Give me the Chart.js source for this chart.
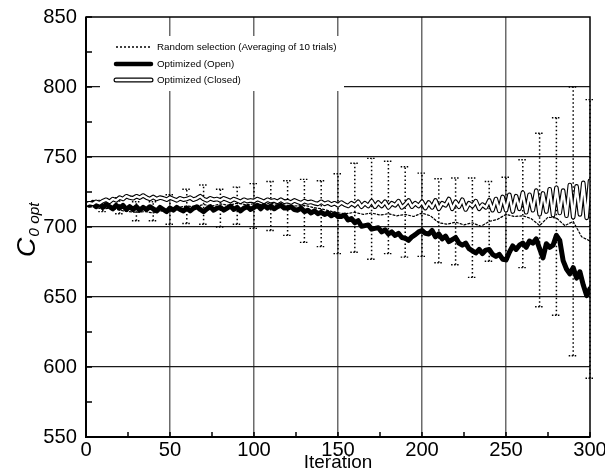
<!DOCTYPE html>
<html>
<head>
<meta charset="utf-8">
<script src="https://cdn.jsdelivr.net/npm/chart.js@4.4.0/dist/chart.umd.min.js"></script>
<style>
  html, body { margin: 0; padding: 0; background: #fff; }
  #wrap { width: 605px; height: 475px; }
</style>
</head>
<body>
<div id="wrap"><canvas id="chart" width="605" height="475"></canvas></div>
<script>
// --- data ---
const iterations = [
    0, 2, 4, 6, 8, 10, 12, 14, 16, 18,
    20, 22, 24, 26, 28, 30, 32, 34, 36, 38,
    40, 42, 44, 46, 48, 50, 52, 54, 56, 58,
    60, 62, 64, 66, 68, 70, 72, 74, 76, 78,
    80, 82, 84, 86, 88, 90, 92, 94, 96, 98,
    100, 102, 104, 106, 108, 110, 112, 114, 116, 118,
    120, 122, 124, 126, 128, 130, 132, 134, 136, 138,
    140, 142, 144, 146, 148, 150, 152, 154, 156, 158,
    160, 162, 164, 166, 168, 170, 172, 174, 176, 178,
    180, 182, 184, 186, 188, 190, 192, 194, 196, 198,
    200, 202, 204, 206, 208, 210, 212, 214, 216, 218,
    220, 222, 224, 226, 228, 230, 232, 234, 236, 238,
    240, 242, 244, 246, 248, 250, 252, 254, 256, 258,
    260, 262, 264, 266, 268, 270, 272, 274, 276, 278,
    280, 282, 284, 286, 288, 290, 292, 294, 296, 298,
    300
];

const openValues = [
    717, 715.5, 717.5, 714.5, 716.5, 714, 716, 714.5, 713, 715.5,
    713.5, 715.5, 712.5, 714.5, 712.5, 714.5, 712, 714, 712.5, 714.5,
    713, 711.5, 714, 712.5, 711, 713.5, 712, 714, 712.5, 711.5,
    713.5, 711.5, 713.5, 714.5, 712.5, 711, 713, 714.5, 712, 713.5,
    714, 712, 713.5, 715, 712.5, 714, 711.5, 713.5, 714.5, 712.5,
    714, 715.5, 713, 715.5, 713.5, 715, 713, 714.5, 715.5, 713.5,
    713.5, 714.5, 712.5, 712, 713.5, 711, 712, 710, 711.5, 709.5,
    710.5, 709, 710, 708, 709.5, 707.5, 707.5, 708.5, 705, 706,
    703, 704.5, 700.5, 701, 701.5, 698.5, 699, 699.5, 696.5, 698,
    695, 696.5, 694, 695.5, 692.5, 692, 690.5, 693, 694.5, 696.5,
    697.5, 695.5, 695, 697.5, 693, 695, 691.5, 693.5, 689.5, 691,
    692.5, 688.5, 687, 688.5, 684.5, 683, 681.5, 684, 681, 683.5,
    684, 680.5, 679, 680.5, 677, 676.5, 682, 686.5, 684, 687,
    688.5, 685.5, 690, 688.5, 691.5, 684.5, 678, 688, 685.5, 687,
    694, 690.5, 676, 670, 666.5, 671, 663.5, 668, 658.5, 651,
    656
];

const closedValues = [
    716, 717, 716.5, 718, 717, 718.5, 719.5, 718, 720, 719,
    721, 720, 722, 721, 720.5, 722, 721, 722.5, 721, 720,
    721.5, 720, 721, 720.5, 719.5, 721, 720, 719, 720.5, 719.5,
    720, 721, 719.5, 720.5, 722, 720, 719, 720.5, 719.5, 720,
    719, 720.5, 719.5, 718.5, 720, 719, 718, 719.5, 718.5, 719,
    718.5, 720, 719, 718, 719.5, 718.5, 719, 718, 719.5, 718,
    718.5, 717.5, 719, 718, 717, 718.5, 717.5, 718, 717, 716.5,
    718, 716.5, 717.5, 716, 717, 715.5, 717.5, 716, 715, 717,
    715.5, 718, 714.5, 717, 715, 718.5, 714.5, 717.5, 715, 718,
    714, 717, 715.5, 718.5, 714, 716, 719, 714.5, 717, 715,
    718, 713.5, 717.5, 714, 719, 713, 717, 715.5, 720, 713,
    718, 714.5, 719.5, 712.5, 717, 715, 718.5, 713, 716, 714,
    719, 712, 720, 711.5, 721.5, 712, 723, 711, 722, 713,
    724.5, 710.5, 723, 712, 726, 709, 724, 711, 727, 708.5,
    728, 710, 726, 708, 730, 707, 729, 709, 731.5, 706.5,
    733
];

const randomIters = [
    0, 5, 10, 15, 20, 25, 30, 35, 40, 45,
    50, 55, 60, 65, 70, 75, 80, 85, 90, 95,
    100, 105, 110, 115, 120, 125, 130, 135, 140, 145,
    150, 155, 160, 165, 170, 175, 180, 185, 190, 195,
    200, 205, 210, 215, 220, 225, 230, 235, 240, 245,
    250, 255, 260, 265, 270, 275, 280, 285, 290, 295,
    300
];

const randomMean = [
    715, 714, 713, 713.5, 712, 711, 710.5, 711, 710, 711.5,
    713, 714, 715, 714.5, 716, 715, 716.5, 715.5, 717, 716,
    716.5, 716, 717, 716, 715.5, 715, 715.5, 714, 713, 711.5,
    710, 709.5, 710.5, 709, 710, 708.5, 709.5, 708, 709, 707.5,
    710, 708, 703, 702, 703.5, 701.5, 703, 700.5, 704, 705.5,
    709, 707.5, 708, 706, 701, 707, 706.5, 701, 704, 693,
    690
];

// error bars of the random selection (every 10 iterations)
const barIters = [10, 20, 30, 40, 50, 60, 70, 80, 90, 100, 110, 120, 130, 140, 150,
    160, 170, 180, 190, 200, 210, 220, 230, 240, 250, 260, 270, 280, 290, 300];
const barLow = [711, 709.5, 704.5, 704.5, 702, 702.5, 702, 700, 702, 699, 697.5, 694, 689, 686, 681,
    682, 677, 681, 678.5, 679, 674.5, 673, 664, 675.5, 677, 671, 643, 637, 608, 592];
const barHigh = [719, 721, 718, 718, 723, 727, 730, 727, 728.5, 731, 732.5, 733, 734, 733, 738,
    745.5, 749, 747, 743, 738.5, 734.5, 735, 735, 732.5, 735.5, 748, 767, 778, 800, 791];

const xTicks = [0, 50, 100, 150, 200, 250, 300];
const yTicks = [550, 600, 650, 700, 750, 800, 850];
const xMinor = [25, 75, 125, 175, 225, 275];
const yMinor = [575, 625, 675, 725, 775, 825];

const legendLabels = [
    "Random selection (Averaging of 10 trials)",
    "Optimized (Open)",
    "Optimized (Closed)"
];

// --- font: narrow face if present, otherwise scaled regular ---
const probe = document.createElement("canvas").getContext("2d");
function textWidth(fam) {
    probe.font = "100px " + fam;
    return probe.measureText("Iteration 850").width;
}
const hasNarrow = textWidth("'Liberation Sans Narrow', monospace") !== textWidth("monospace");
const FAMILY = hasNarrow ? "'Liberation Sans Narrow', 'Liberation Sans', sans-serif" : "'Liberation Sans', Arial, sans-serif";
const K = hasNarrow ? 1 : 0.86;

function pts(xs, ys) {
    return xs.map((x, i) => ({ x: x, y: ys[i] }));
}

// error bars drawn behind the lines
const errorBars = {
    id: "errorBars",
    beforeDatasetsDraw(chart) {
        const ctx = chart.ctx;
        const xs = chart.scales.x, ys = chart.scales.y;
        ctx.save();
        ctx.strokeStyle = "#000";
        barIters.forEach((it, i) => {
            const px = xs.getPixelForValue(it);
            const lo = ys.getPixelForValue(barLow[i]);
            const hi = ys.getPixelForValue(barHigh[i]);
            ctx.lineWidth = 1.5;
            ctx.setLineDash([1.5, 2.5]);
            ctx.beginPath();
            ctx.moveTo(px, lo);
            ctx.lineTo(px, hi);
            ctx.stroke();
            ctx.setLineDash([1.5, 1.5]);
            ctx.lineWidth = 1.4;
            ctx.beginPath();
            ctx.moveTo(px - 4.5, lo);
            ctx.lineTo(px + 4.5, lo);
            ctx.moveTo(px - 4.5, hi);
            ctx.lineTo(px + 4.5, hi);
            ctx.stroke();
        });
        ctx.restore();
    }
};

// frame, inner ticks, legend box and the y title
const frame = {
    id: "frame",
    afterDatasetsDraw(chart) {
        const ctx = chart.ctx;
        const a = chart.chartArea;
        const xs = chart.scales.x, ys = chart.scales.y;
        ctx.save();
        ctx.strokeStyle = "#000";
        ctx.lineWidth = 1.5;
        ctx.strokeRect(a.left, a.top, a.right - a.left, a.bottom - a.top);
        ctx.lineWidth = 2;
        ctx.beginPath();
        ctx.moveTo(a.left, a.top);
        ctx.lineTo(a.left, a.bottom);
        ctx.lineTo(a.right, a.bottom);
        ctx.stroke();

        ctx.lineWidth = 1.5;
        ctx.beginPath();
        yMinor.concat(yTicks).forEach(v => {
            const py = ys.getPixelForValue(v);
            ctx.moveTo(a.left, py);
            ctx.lineTo(a.left + 6, py);
        });
        xMinor.concat(xTicks).forEach(v => {
            const px = xs.getPixelForValue(v);
            ctx.moveTo(px, a.bottom);
            ctx.lineTo(px, a.bottom - 5);
        });
        ctx.stroke();

        // legend
        const bx = 100, by = 36, bw = 244, bh = 55;
        ctx.fillStyle = "#fff";
        ctx.fillRect(bx, by, bw, bh);
        const rows = [47, 64, 80];
        const x0 = 116, x1 = 151;
        ctx.strokeStyle = "#000";
        ctx.lineCap = "butt";
        ctx.lineWidth = 1.3;
        ctx.setLineDash([2, 2]);
        ctx.beginPath(); ctx.moveTo(x0, rows[0]); ctx.lineTo(x1, rows[0]); ctx.stroke();
        ctx.setLineDash([]);
        ctx.lineCap = "round";
        ctx.lineWidth = 4.5;
        ctx.beginPath(); ctx.moveTo(x0, rows[1]); ctx.lineTo(x1, rows[1]); ctx.stroke();
        ctx.lineWidth = 5;
        ctx.beginPath(); ctx.moveTo(x0, rows[2]); ctx.lineTo(x1, rows[2]); ctx.stroke();
        ctx.strokeStyle = "#fff";
        ctx.lineWidth = 2.6;
        ctx.beginPath(); ctx.moveTo(x0, rows[2]); ctx.lineTo(x1, rows[2]); ctx.stroke();
        ctx.fillStyle = "#000";
        ctx.font = (11.4 * K) + "px " + FAMILY;
        ctx.textBaseline = "middle";
        ctx.textAlign = "left";
        legendLabels.forEach((t, i) => ctx.fillText(t, 157, rows[i]));
        ctx.restore();
    },
    afterDraw(chart) {
        const ctx = chart.ctx;
        ctx.save();
        ctx.fillStyle = "#000";
        ctx.translate(35, 257);
        ctx.rotate(-Math.PI / 2);
        ctx.textBaseline = "alphabetic";
        ctx.textAlign = "left";
        ctx.font = "italic " + (31 * K) + "px " + FAMILY;
        ctx.fillText("C", 0, 0);
        const w = ctx.measureText("C").width;
        ctx.font = "italic " + (18 * K) + "px " + FAMILY;
        ctx.fillText("0 opt", w + 1, 4);
        ctx.restore();
    }
};

const tickFont = { family: FAMILY, size: 23.5 * K, lineHeight: 1 };

new Chart(document.getElementById("chart"), {
    type: "line",
    data: {
        datasets: [
            {
                label: "Optimized (Closed) inner",
                data: pts(iterations, closedValues),
                borderColor: "#fff",
                borderWidth: 2.4,
                order: 0
            },
            {
                label: legendLabels[2],
                data: pts(iterations, closedValues),
                borderColor: "#000",
                borderWidth: 4.6,
                order: 1
            },
            {
                label: legendLabels[1],
                data: pts(iterations, openValues),
                borderColor: "#000",
                borderWidth: 5,
                order: 2
            },
            {
                label: legendLabels[0],
                data: pts(randomIters, randomMean),
                borderColor: "#000",
                borderWidth: 1.2,
                borderDash: [2, 2],
                order: 3
            }
        ]
    },
    options: {
        responsive: false,
        animation: false,
        devicePixelRatio: 1,
        layout: { padding: { left: 0, top: 17, right: 15, bottom: 0 } },
        elements: {
            point: { radius: 0 },
            line: { tension: 0, borderJoinStyle: "round", borderCapStyle: "round" }
        },
        plugins: {
            legend: { display: false },
            tooltip: { enabled: false }
        },
        scales: {
            x: {
                type: "linear",
                min: 0,
                max: 300,
                afterBuildTicks: s => { s.ticks = xTicks.map(v => ({ value: v })); },
                afterFit: s => {
                    s.height = 38;
                    s.paddingLeft = 0;
                    s.paddingRight = 0;
                },
                border: { display: false },
                grid: {
                    drawTicks: false,
                    lineWidth: 1.5,
                    color: c => (c.tick && (c.tick.value === 0 || c.tick.value === 300)) ? "rgba(0,0,0,0)" : "#6b6b6b"
                },
                ticks: { color: "#000", font: tickFont, padding: 3, maxRotation: 0 },
                title: {
                    display: true,
                    text: "Iteration",
                    color: "#000",
                    font: { family: FAMILY, size: 22 * K, lineHeight: 1 },
                    padding: { top: 0, bottom: 2.5 }
                }
            },
            y: {
                min: 550,
                max: 850,
                afterBuildTicks: s => { s.ticks = yTicks.map(v => ({ value: v })); },
                afterFit: s => {
                    s.width = 86;
                    s.paddingTop = 0;
                    s.paddingBottom = 0;
                },
                border: { display: false },
                grid: {
                    drawTicks: false,
                    lineWidth: 1.2,
                    color: c => (c.tick && (c.tick.value === 550 || c.tick.value === 850)) ? "rgba(0,0,0,0)" : "#1a1a1a"
                },
                ticks: { color: "#000", font: tickFont, padding: 9 }
            }
        }
    },
    plugins: [errorBars, frame]
});
</script>
</body>
</html>
